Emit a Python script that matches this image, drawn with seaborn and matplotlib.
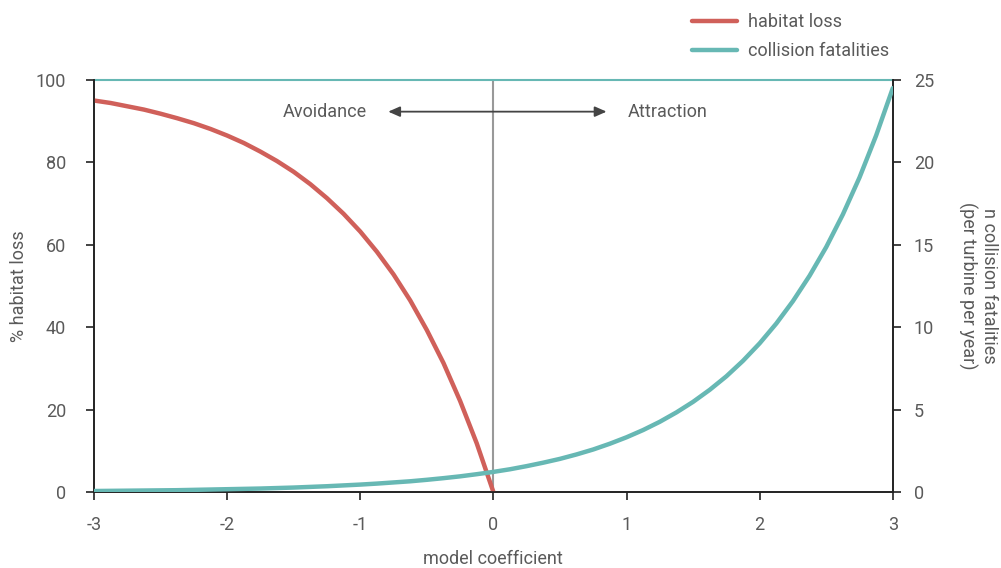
import numpy as np
import pandas as pd
import matplotlib
matplotlib.use("Agg")
import matplotlib.pyplot as plt
import seaborn as sns

# values
coef_loss = [-3.0, -2.875, -2.75, -2.625, -2.5, -2.375, -2.25, -2.125, -2.0,
             -1.875, -1.75, -1.625, -1.5, -1.375, -1.25, -1.125, -1.0,
             -0.875, -0.75, -0.625, -0.5, -0.375, -0.25, -0.125, 0.0]
habitat_loss = [95.0, 94.4, 93.6, 92.8, 91.8, 90.7, 89.5, 88.1, 86.5,
                84.7, 82.6, 80.3, 77.7, 74.7, 71.3, 67.5, 63.2,
                58.3, 52.8, 46.5, 39.3, 31.3, 22.1, 11.8, 0.0]

coef_coll = [-3.0, -2.875, -2.75, -2.625, -2.5, -2.375, -2.25, -2.125, -2.0,
             -1.875, -1.75, -1.625, -1.5, -1.375, -1.25, -1.125, -1.0,
             -0.875, -0.75, -0.625, -0.5, -0.375, -0.25, -0.125, 0.0,
             0.125, 0.25, 0.375, 0.5, 0.625, 0.75, 0.875, 1.0,
             1.125, 1.25, 1.375, 1.5, 1.625, 1.75, 1.875, 2.0,
             2.125, 2.25, 2.375, 2.5, 2.625, 2.75, 2.875, 3.0]
collision = [0.06, 0.07, 0.08, 0.09, 0.10, 0.11, 0.13, 0.15, 0.17,
             0.19, 0.21, 0.24, 0.27, 0.31, 0.35, 0.40, 0.45,
             0.51, 0.58, 0.65, 0.74, 0.84, 0.95, 1.08, 1.22,
             1.38, 1.57, 1.78, 2.01, 2.28, 2.58, 2.93, 3.32,
             3.76, 4.26, 4.83, 5.47, 6.20, 7.02, 7.96, 9.02,
             10.22, 11.58, 13.12, 14.86, 16.84, 19.08, 21.63, 24.5]

x_ticks = [-3, -2, -1, 0, 1, 2, 3]
left_ticks = [0, 20, 40, 60, 80, 100]
right_ticks = [0, 5, 10, 15, 20, 25]

RED = "#d0605a"
TEAL = "#67b8b4"
GREY = "#5a5a5a"
FS = 13

sns.set_style("white")
plt.rcParams["font.family"] = ["Roboto", "DejaVu Sans"]

df_loss = pd.DataFrame({"coef": coef_loss, "loss": habitat_loss})
df_coll = pd.DataFrame({"coef": coef_coll, "coll": collision})

fig = plt.figure(figsize=(10.01, 5.68), dpi=100)
ax = fig.add_axes([0.0939, 0.1338, 0.798, 0.7255])
ax2 = ax.twinx()

sns.lineplot(data=df_loss, x="coef", y="loss", ax=ax, color=RED, lw=3.2,
             label="habitat loss", legend=False, zorder=3)
sns.lineplot(data=df_coll, x="coef", y="coll", ax=ax2, color=TEAL, lw=3.2,
             label="collision fatalities", legend=False, zorder=3)

ax.set_xlim(-3, 3)
ax.set_ylim(0, 100)
ax2.set_ylim(0, 25)
ax.set_xticks(x_ticks)
ax.set_xticklabels([str(t) for t in x_ticks])
ax.set_yticks(left_ticks)
ax2.set_yticks(right_ticks)

# top line and vertical line at zero
ax.axhline(100, color=TEAL, lw=1.5, zorder=2, clip_on=False)
ax.axvline(0, color="#999999", lw=1.5, zorder=1)

for a in (ax, ax2):
    a.spines["top"].set_visible(False)
    for s in ("left", "right", "bottom"):
        a.spines[s].set_color("#222222")
        a.spines[s].set_linewidth(1.2)
    a.tick_params(direction="out", length=6, width=1.2, color="#222222",
                  labelsize=FS, labelcolor=GREY, pad=10)
ax.tick_params(axis="y", left=True, pad=14)
ax.tick_params(axis="x", bottom=True, pad=11)
ax2.tick_params(axis="y", right=True, pad=9)

ax.set_xlabel("model coefficient", fontsize=FS, color=GREY, labelpad=12)
ax.set_ylabel("% habitat loss", fontsize=FS, color=GREY, labelpad=6)
ax2.set_ylabel("n collision fatalities\n(per turbine per year)", fontsize=FS,
               color=GREY, rotation=270, labelpad=46, linespacing=1.15)

# avoidance / attraction arrow
ax.annotate("", xy=(-0.79, 92.3), xytext=(0.85, 92.3),
            arrowprops=dict(arrowstyle="<|-|>,head_length=0.5,head_width=0.22",
                            color="#444444", lw=1.3,
                            mutation_scale=14, shrinkA=0, shrinkB=0))
ax.text(-0.95, 92.3, "Avoidance", ha="right", va="center", fontsize=FS, color=GREY)
ax.text(1.01, 92.3, "Attraction", ha="left", va="center", fontsize=FS, color=GREY)

h1, l1 = ax.get_legend_handles_labels()
h2, l2 = ax2.get_legend_handles_labels()
fig.legend(h1 + h2, l1 + l2, loc="upper left", bbox_to_anchor=(0.675, 1.005),
           frameon=False, fontsize=FS, labelcolor=GREY, handlelength=2.5,
           handletextpad=0.6, labelspacing=0.6)

fig.savefig("out.png", dpi=100)
